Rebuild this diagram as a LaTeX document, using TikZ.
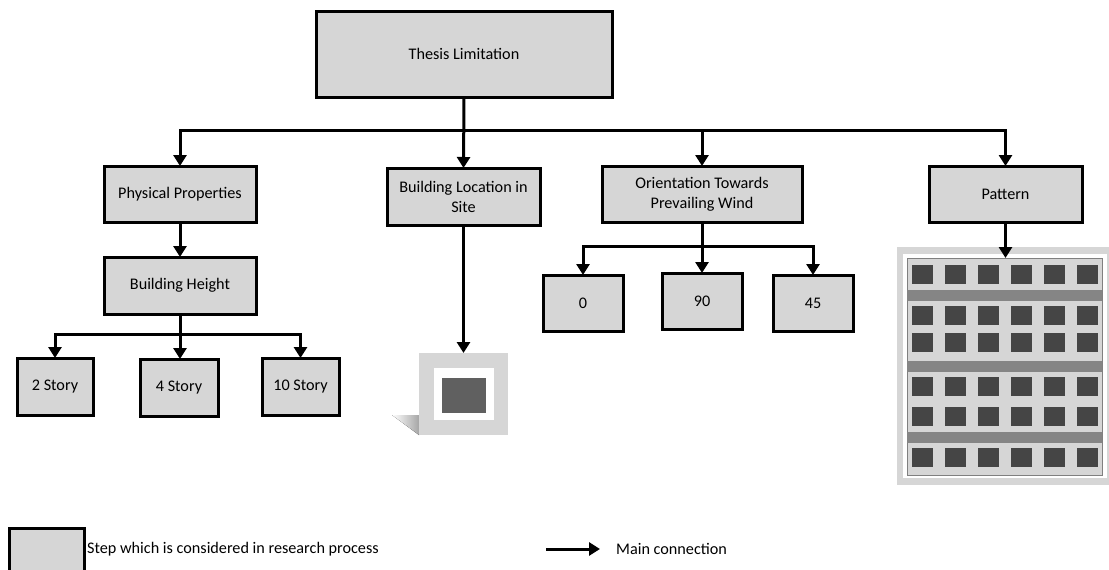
\documentclass[tikz,border=0pt]{standalone}
\usepackage{fontspec}
\setmainfont{Carlito}
\usetikzlibrary{arrows.meta}
\tikzset{
	stepbox/.style={draw=black, line width=3pt, fill=boxgray, align=center, inner sep=2pt, outer sep=0pt, font=\fontsize{16.2}{20}\selectfont},
	conn/.style={line width=3pt, -{Triangle[length=11pt,width=13pt]}},
	plainbox/.style={fill=#1, inner sep=0pt, outer sep=0pt},
	legendtext/.style={anchor=west, inner sep=0pt, font=\fontsize{16.2}{20}\selectfont},
}
\definecolor{boxgray}{gray}{0.84}
\definecolor{darkgray}{gray}{0.27}
\definecolor{bandgray}{gray}{0.52}
\begin{document}
\begin{tikzpicture}[x=1pt,y=-1pt]
		\useasboundingbox (0,0) rectangle (1109,570);
		% main boxes
		\node[stepbox, minimum width=296pt, minimum height=86pt] (T) at (464,54) {Thesis Limitation};
		\node[stepbox, minimum width=152pt, minimum height=56pt] (P) at (180,194) {\raisebox{-2pt}{Physical Properties}};
		\node[stepbox, minimum width=152pt, minimum height=57pt] (H) at (180,285.5) {Building Height};
		\node[stepbox, minimum width=76pt, minimum height=57pt] (H2) at (55,386.5) {2 Story};
		\node[stepbox, minimum width=78pt, minimum height=57pt] (H4) at (179,387.5) {4 Story};
		\node[stepbox, minimum width=77pt, minimum height=57pt] (H10) at (300.5,386.5) {10 Story};
		\node[stepbox, minimum width=153pt, minimum height=57pt] (L) at (463.5,196.5) {Building Location in\\Site};
		\node[stepbox, minimum width=200pt, minimum height=56pt] (O) at (702,194) {Orientation Towards\\Prevailing Wind};
		\node[stepbox, minimum width=80pt, minimum height=56pt] (O0) at (583,303) {0};
		\node[stepbox, minimum width=80pt, minimum height=56pt] (O90) at (702,301) {90};
		\node[stepbox, minimum width=80pt, minimum height=56pt] (O45) at (813,303) {45};
		\node[stepbox, minimum width=153pt, minimum height=56pt] (R) at (1005.5,194) {Pattern};
		% site picture
		\fill[left color=white, right color=gray!70] (392,415) -- (419,415) -- (419,435) -- cycle;
		\node[plainbox=boxgray, minimum width=89pt, minimum height=82pt] (S) at (463.5,394) {};
		\fill[white] (434,368) rectangle (494,420);
		\fill[gray!75!black] (442,378) rectangle (486,413);
		% pattern picture
		\node[plainbox=boxgray, minimum width=212pt, minimum height=238pt] (G) at (1003,366) {};
		\fill[white] (903,254) rectangle (1107,478);
		\fill[boxgray, draw=gray, line width=1pt] (907,258) rectangle (1102,475);
		\foreach \y in {290,361,432} {
			\fill[bandgray] (907,\y) rectangle (1102,\y+10.5);
		}
		\foreach \y in {265,306,333,377,407,448} {
			\foreach \x in {912,945,978,1011,1044,1077} {
				\fill[darkgray] (\x,\y) rectangle (\x+21,\y+19);
			}
		}
		% connections
		\coordinate (A) at (464,130);
		\coordinate (C) at (702,246);
		\coordinate (D) at (180,334);
		\coordinate (E) at (1005.5,258);
		\draw[conn] (T.south) -- (L.north);
		\draw[conn] (A) -| (P.north);
		\draw[conn] (A) -| (O.north);
		\draw[conn] (A) -| (R.north);
		\draw[conn] (P.south) -- (H.north);
		\draw[conn] (H.south) -- (H4.north -| H.south);
		\draw[conn] (D) -| (H2.north);
		\draw[conn] (D) -| (H10.north);
		\draw[conn] (O.south) -- (O90.north);
		\draw[conn] (C) -| (O0.north);
		\draw[conn] (C) -| (O45.north);
		\draw[conn] (L.south) -- (S.north);
		\draw[conn] (R.south) -- (E);
		% legend
		\node[stepbox, minimum width=75pt, minimum height=46pt] (K) at (46.5,551) {};
		\node[legendtext] (KT) at (87,549) {Step which is considered in research process};
		\node[legendtext] (MT) at (616,549) {Main connection};
		\coordinate (M) at (546,549);
		\coordinate (N) at (600,549);
		\draw[conn] (M) -- (N);
	\end{tikzpicture}
\end{document}
